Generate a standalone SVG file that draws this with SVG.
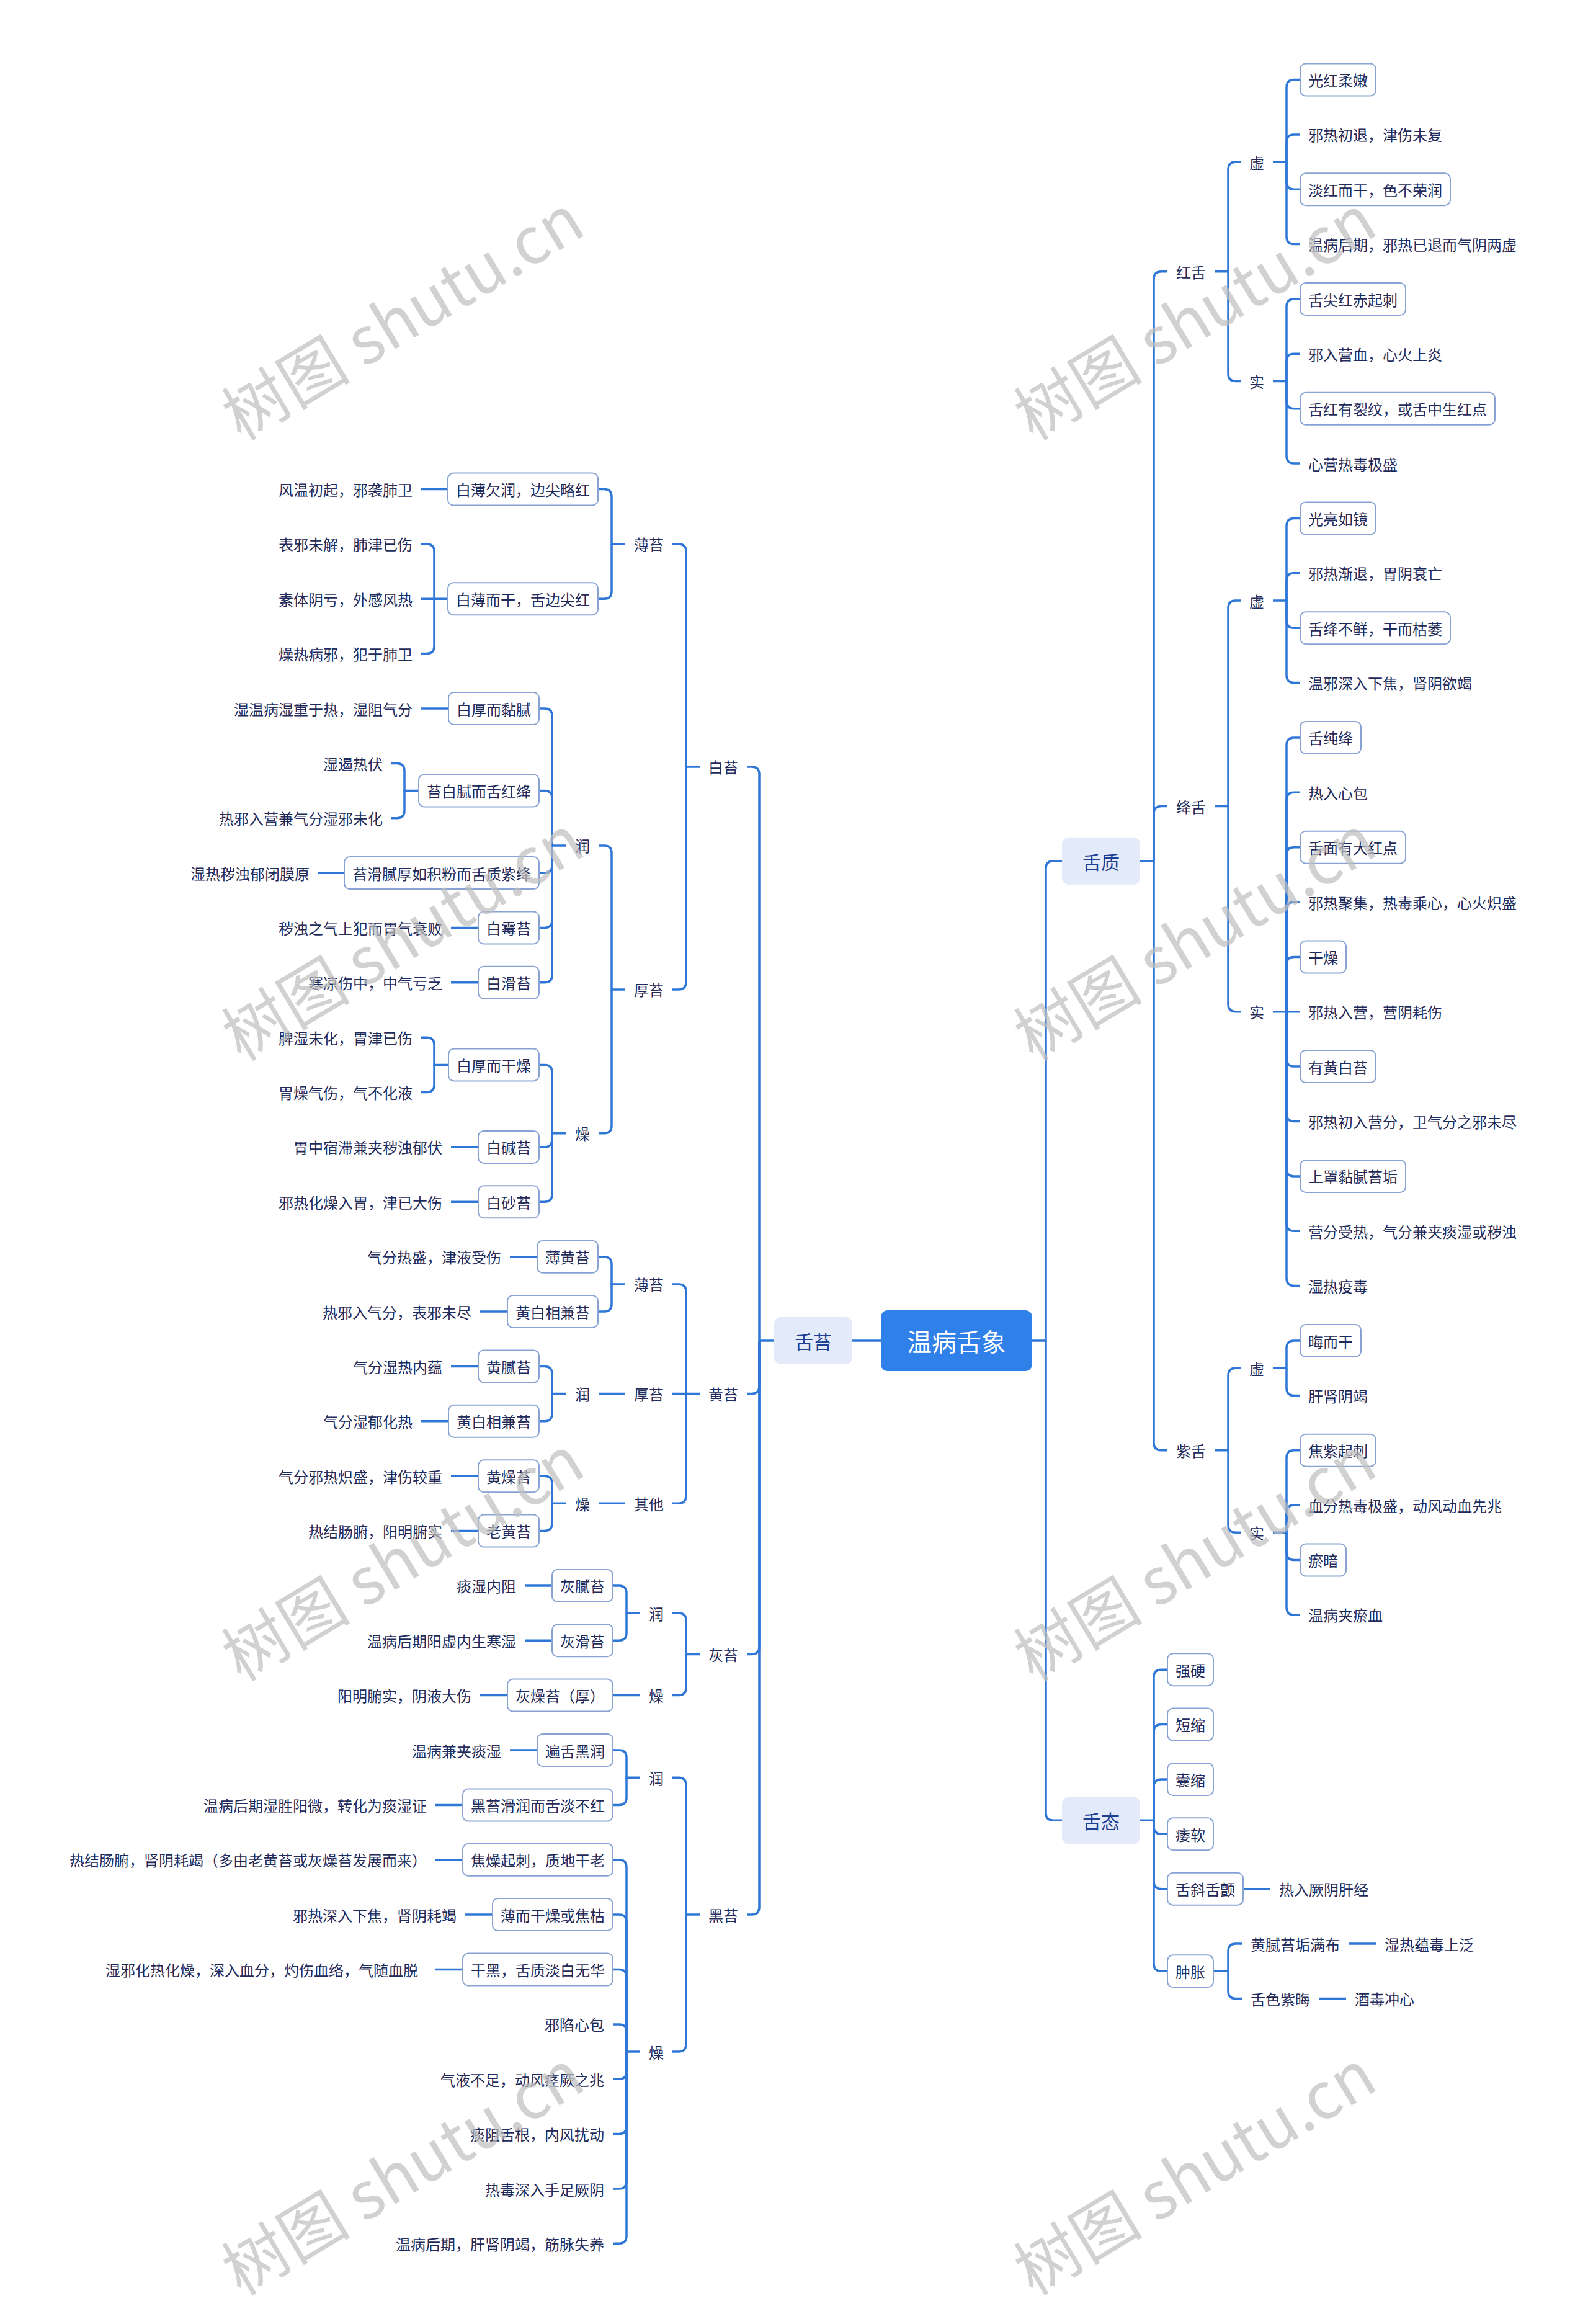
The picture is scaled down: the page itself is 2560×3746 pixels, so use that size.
<svg xmlns="http://www.w3.org/2000/svg" width="2560" height="3746" viewBox="0 0 2560 3746">
<style>
.c path{fill:none;stroke:#2f77d7;stroke-width:3.5}
.b{fill:#fff;stroke:#88a3d3;stroke-width:2}
text{font-family:"Noto Sans CJK SC","Noto Sans",sans-serif;dominant-baseline:central}
.t{font-size:24px;fill:#1f2b5a}
.e{text-anchor:end}
.l1r{fill:#e3ebfb}
.l1t{font-size:30px;fill:#1d4092;text-anchor:middle}
.wm{font-family:"Liberation Serif","Noto Sans CJK SC",serif;font-size:104px;fill:#bdbdbd;fill-opacity:.7;text-anchor:middle}
</style>
<rect width="2560" height="3746" fill="#fff"/>
<g id="connectors" class="c">
<path d="M1420 2161H1374"/>
<path d="M1664 2161H1686V1399.7Q1686 1387.7 1698 1387.7H1712"/>
<path d="M1686 2161V2922.2Q1686 2934.2 1698 2934.2H1712"/>
<path d="M1248 2161H1224V1247.9Q1224 1235.9 1212 1235.9H1204"/>
<path d="M1224 2161V2234.6Q1224 2246.6 1212 2246.6H1204"/>
<path d="M1224 2161V2654.4Q1224 2666.4 1212 2666.4H1204"/>
<path d="M1224 2161V3074.1Q1224 3086.1 1212 3086.1H1204"/>
<path d="M1128 1235.9H1106V888.9Q1106 876.9 1094 876.9H1084"/>
<path d="M1106 1235.9V1582.9Q1106 1594.9 1094 1594.9H1084"/>
<path d="M1008 876.9H986V800.5Q986 788.5 974 788.5H964"/>
<path d="M986 876.9V953.2Q986 965.2 974 965.2H964"/>
<path d="M723 788.5H679"/>
<path d="M723 965.2H679"/>
<path d="M700 965.2V888.9Q700 876.9 688 876.9H679"/>
<path d="M700 965.2V1041.6Q700 1053.6 688 1053.6H679"/>
<path d="M1008 1594.9H986V1374.9Q986 1362.9 974 1362.9H965"/>
<path d="M986 1594.9V1814.8Q986 1826.8 974 1826.8H965"/>
<path d="M913 1362.9H890V1154Q890 1142 878 1142H869"/>
<path d="M890 1362.9V1286.5Q890 1274.5 878 1274.5H869"/>
<path d="M890 1362.9V1395.1Q890 1407.1 878 1407.1H869"/>
<path d="M890 1362.9V1483.5Q890 1495.5 878 1495.5H869"/>
<path d="M890 1362.9V1571.8Q890 1583.8 878 1583.8H869"/>
<path d="M723 1142H679"/>
<path d="M675 1274.5H652V1242.4Q652 1230.4 640 1230.4H631"/>
<path d="M652 1274.5V1306.7Q652 1318.7 640 1318.7H631"/>
<path d="M555 1407.1H513"/>
<path d="M771 1495.5H727"/>
<path d="M771 1583.8H727"/>
<path d="M913 1826.8H890V1728.4Q890 1716.4 878 1716.4H869"/>
<path d="M890 1826.8V1836.9Q890 1848.9 878 1848.9H869"/>
<path d="M890 1826.8V1925.3Q890 1937.3 878 1937.3H869"/>
<path d="M723 1716.4H700V1684.2Q700 1672.2 688 1672.2H679"/>
<path d="M700 1716.4V1748.6Q700 1760.6 688 1760.6H679"/>
<path d="M771 1848.9H727"/>
<path d="M771 1937.3H727"/>
<path d="M1128 2246.6H1084"/>
<path d="M1106 2246.6V2081.9Q1106 2069.9 1094 2069.9H1084"/>
<path d="M1106 2246.6V2411.3Q1106 2423.3 1094 2423.3H1084"/>
<path d="M1008 2069.9H986V2037.7Q986 2025.7 974 2025.7H964"/>
<path d="M986 2069.9V2102.1Q986 2114.1 974 2114.1H964"/>
<path d="M866 2025.7H822"/>
<path d="M818 2114.1H774"/>
<path d="M1008 2246.6H965"/>
<path d="M913 2246.6H890V2214.4Q890 2202.4 878 2202.4H869"/>
<path d="M890 2246.6V2278.8Q890 2290.8 878 2290.8H869"/>
<path d="M771 2202.4H727"/>
<path d="M723 2290.8H679"/>
<path d="M1008 2423.3H965"/>
<path d="M913 2423.3H890V2391.2Q890 2379.2 878 2379.2H869"/>
<path d="M890 2423.3V2455.5Q890 2467.5 878 2467.5H869"/>
<path d="M771 2379.2H727"/>
<path d="M771 2467.5H727"/>
<path d="M1128 2666.4H1106V2612.1Q1106 2600.1 1094 2600.1H1084"/>
<path d="M1106 2666.4V2720.6Q1106 2732.6 1094 2732.6H1084"/>
<path d="M1032 2600.1H1010V2567.9Q1010 2555.9 998 2555.9H988"/>
<path d="M1010 2600.1V2632.3Q1010 2644.3 998 2644.3H988"/>
<path d="M890 2555.9H846"/>
<path d="M890 2644.3H846"/>
<path d="M1032 2732.6H988"/>
<path d="M818 2732.6H774"/>
<path d="M1128 3086.1H1106V2877.2Q1106 2865.2 1094 2865.2H1084"/>
<path d="M1106 3086.1V3295Q1106 3307 1094 3307H1084"/>
<path d="M1032 2865.2H1010V2833Q1010 2821 998 2821H988"/>
<path d="M1010 2865.2V2897.4Q1010 2909.4 998 2909.4H988"/>
<path d="M866 2821H822"/>
<path d="M746 2909.4H702"/>
<path d="M1032 3307H1010V3009.8Q1010 2997.8 998 2997.8H988"/>
<path d="M1010 3307V3098.1Q1010 3086.1 998 3086.1H988"/>
<path d="M1010 3307V3186.5Q1010 3174.5 998 3174.5H988"/>
<path d="M1010 3307V3274.9Q1010 3262.9 998 3262.9H988"/>
<path d="M1010 3307V3339.2Q1010 3351.2 998 3351.2H988"/>
<path d="M1010 3307V3427.6Q1010 3439.6 998 3439.6H988"/>
<path d="M1010 3307V3516Q1010 3528 998 3528H988"/>
<path d="M1010 3307V3604.3Q1010 3616.3 998 3616.3H988"/>
<path d="M746 2997.8H702"/>
<path d="M794 3086.1H750"/>
<path d="M746 3174.5H702"/>
<path d="M1838 1387.7H1860V449.8Q1860 437.8 1872 437.8H1882"/>
<path d="M1860 1387.7V1311.4Q1860 1299.4 1872 1299.4H1882"/>
<path d="M1860 1387.7V2325.7Q1860 2337.7 1872 2337.7H1882"/>
<path d="M1958 437.8H1980V273.1Q1980 261.1 1992 261.1H2000"/>
<path d="M1980 437.8V602.5Q1980 614.5 1992 614.5H2000"/>
<path d="M2052 261.1H2074V140.5Q2074 128.5 2086 128.5H2096"/>
<path d="M2074 261.1V228.9Q2074 216.9 2086 216.9H2096"/>
<path d="M2074 261.1V293.2Q2074 305.2 2086 305.2H2096"/>
<path d="M2074 261.1V381.6Q2074 393.6 2086 393.6H2096"/>
<path d="M2052 614.5H2074V494Q2074 482 2086 482H2096"/>
<path d="M2074 614.5V582.3Q2074 570.3 2086 570.3H2096"/>
<path d="M2074 614.5V646.7Q2074 658.7 2086 658.7H2096"/>
<path d="M2074 614.5V735.1Q2074 747.1 2086 747.1H2096"/>
<path d="M1958 1299.4H1980V980Q1980 968 1992 968H2000"/>
<path d="M1980 1299.4V1618.8Q1980 1630.8 1992 1630.8H2000"/>
<path d="M2052 968H2074V847.5Q2074 835.5 2086 835.5H2096"/>
<path d="M2074 968V935.8Q2074 923.8 2086 923.8H2096"/>
<path d="M2074 968V1000.2Q2074 1012.2 2086 1012.2H2096"/>
<path d="M2074 968V1088.6Q2074 1100.6 2086 1100.6H2096"/>
<path d="M2052 1630.8H2096"/>
<path d="M2074 1630.8V1200.9Q2074 1188.9 2086 1188.9H2096"/>
<path d="M2074 1630.8V1289.3Q2074 1277.3 2086 1277.3H2096"/>
<path d="M2074 1630.8V1377.7Q2074 1365.7 2086 1365.7H2096"/>
<path d="M2074 1630.8V1466Q2074 1454 2086 1454H2096"/>
<path d="M2074 1630.8V1554.4Q2074 1542.4 2086 1542.4H2096"/>
<path d="M2074 1630.8V1707.1Q2074 1719.1 2086 1719.1H2096"/>
<path d="M2074 1630.8V1795.5Q2074 1807.5 2086 1807.5H2096"/>
<path d="M2074 1630.8V1883.9Q2074 1895.9 2086 1895.9H2096"/>
<path d="M2074 1630.8V1972.3Q2074 1984.3 2086 1984.3H2096"/>
<path d="M2074 1630.8V2060.6Q2074 2072.6 2086 2072.6H2096"/>
<path d="M1958 2337.7H1980V2217.2Q1980 2205.2 1992 2205.2H2000"/>
<path d="M1980 2337.7V2458.3Q1980 2470.3 1992 2470.3H2000"/>
<path d="M2052 2205.2H2074V2173Q2074 2161 2086 2161H2096"/>
<path d="M2074 2205.2V2237.4Q2074 2249.4 2086 2249.4H2096"/>
<path d="M2052 2470.3H2074V2349.7Q2074 2337.7 2086 2337.7H2096"/>
<path d="M2074 2470.3V2438.1Q2074 2426.1 2086 2426.1H2096"/>
<path d="M2074 2470.3V2502.5Q2074 2514.5 2086 2514.5H2096"/>
<path d="M2074 2470.3V2590.9Q2074 2602.9 2086 2602.9H2096"/>
<path d="M1838 2934.2H1860V2703.2Q1860 2691.2 1872 2691.2H1882"/>
<path d="M1860 2934.2V2791.6Q1860 2779.6 1872 2779.6H1882"/>
<path d="M1860 2934.2V2880Q1860 2868 1872 2868H1882"/>
<path d="M1860 2934.2V2944.3Q1860 2956.3 1872 2956.3H1882"/>
<path d="M1860 2934.2V3032.7Q1860 3044.7 1872 3044.7H1882"/>
<path d="M1860 2934.2V3165.3Q1860 3177.3 1872 3177.3H1882"/>
<path d="M2004 3044.7H2048"/>
<path d="M1956 3177.3H1980V3145.1Q1980 3133.1 1992 3133.1H2002"/>
<path d="M1980 3177.3V3209.4Q1980 3221.4 1992 3221.4H2002"/>
<path d="M2174 3133.1H2218"/>
<path d="M2126 3221.4H2170"/>
</g>
<g id="n-root"><rect x="1420" y="2112" width="244" height="98" rx="11" fill="#2f80e8"/><text x="1542" y="2161" font-size="40" fill="#fff" text-anchor="middle">温病舌象</text></g>
<g id="n-shetai"><rect class="l1r" x="1248" y="2123" width="126" height="76" rx="11"/><text class="l1t" x="1311" y="2161">舌苔</text></g>
<g id="n-shezhi"><rect class="l1r" x="1712" y="1349.7" width="126" height="76" rx="11"/><text class="l1t" x="1775" y="1387.7">舌质</text></g>
<g id="n-shetai2"><rect class="l1r" x="1712" y="2896.2" width="126" height="76" rx="11"/><text class="l1t" x="1775" y="2934.2">舌态</text></g>
<g id="left-nodes" class="t">
<g id="l1"><text class="e" x="1190" y="1235.9">白苔</text></g>
<g id="l2"><text class="e" x="1070" y="876.9">薄苔</text></g>
<g id="l3"><rect class="b" x="722" y="762.5" width="242" height="52" rx="9"/><text class="e" x="951" y="788.5">白薄欠润，边尖略红</text></g>
<g id="l4"><text class="e" x="665" y="788.5">风温初起，邪袭肺卫</text></g>
<g id="l5"><rect class="b" x="722" y="939.2" width="242" height="52" rx="9"/><text class="e" x="951" y="965.2">白薄而干，舌边尖红</text></g>
<g id="l6"><text class="e" x="665" y="876.9">表邪未解，肺津已伤</text></g>
<g id="l7"><text class="e" x="665" y="965.2">素体阴亏，外感风热</text></g>
<g id="l8"><text class="e" x="665" y="1053.6">燥热病邪，犯于肺卫</text></g>
<g id="l9"><text class="e" x="1070" y="1594.9">厚苔</text></g>
<g id="l10"><text class="e" x="951" y="1362.9">润</text></g>
<g id="l11"><rect class="b" x="723" y="1116" width="146" height="52" rx="9"/><text class="e" x="856" y="1142">白厚而黏腻</text></g>
<g id="l12"><text class="e" x="665" y="1142">湿温病湿重于热，湿阻气分</text></g>
<g id="l13"><rect class="b" x="675" y="1248.5" width="194" height="52" rx="9"/><text class="e" x="856" y="1274.5">苔白腻而舌红绛</text></g>
<g id="l14"><text class="e" x="617" y="1230.4">湿遏热伏</text></g>
<g id="l15"><text class="e" x="617" y="1318.7">热邪入营兼气分湿邪未化</text></g>
<g id="l16"><rect class="b" x="555" y="1381.1" width="314" height="52" rx="9"/><text class="e" x="856" y="1407.1">苔滑腻厚如积粉而舌质紫绛</text></g>
<g id="l17"><text class="e" x="499" y="1407.1">湿热秽浊郁闭膜原</text></g>
<g id="l18"><rect class="b" x="771" y="1469.5" width="98" height="52" rx="9"/><text class="e" x="856" y="1495.5">白霉苔</text></g>
<g id="l19"><text class="e" x="713" y="1495.5">秽浊之气上犯而胃气衰败</text></g>
<g id="l20"><rect class="b" x="771" y="1557.8" width="98" height="52" rx="9"/><text class="e" x="856" y="1583.8">白滑苔</text></g>
<g id="l21"><text class="e" x="713" y="1583.8">寒凉伤中，中气亏乏</text></g>
<g id="l22"><text class="e" x="951" y="1826.8">燥</text></g>
<g id="l23"><rect class="b" x="723" y="1690.4" width="146" height="52" rx="9"/><text class="e" x="856" y="1716.4">白厚而干燥</text></g>
<g id="l24"><text class="e" x="665" y="1672.2">脾湿未化，胃津已伤</text></g>
<g id="l25"><text class="e" x="665" y="1760.6">胃燥气伤，气不化液</text></g>
<g id="l26"><rect class="b" x="771" y="1822.9" width="98" height="52" rx="9"/><text class="e" x="856" y="1848.9">白碱苔</text></g>
<g id="l27"><text class="e" x="713" y="1848.9">胃中宿滞兼夹秽浊郁伏</text></g>
<g id="l28"><rect class="b" x="771" y="1911.3" width="98" height="52" rx="9"/><text class="e" x="856" y="1937.3">白砂苔</text></g>
<g id="l29"><text class="e" x="713" y="1937.3">邪热化燥入胃，津已大伤</text></g>
<g id="l30"><text class="e" x="1190" y="2246.6">黄苔</text></g>
<g id="l31"><text class="e" x="1070" y="2069.9">薄苔</text></g>
<g id="l32"><rect class="b" x="866" y="1999.7" width="98" height="52" rx="9"/><text class="e" x="951" y="2025.7">薄黄苔</text></g>
<g id="l33"><text class="e" x="808" y="2025.7">气分热盛，津液受伤</text></g>
<g id="l34"><rect class="b" x="818" y="2088.1" width="146" height="52" rx="9"/><text class="e" x="951" y="2114.1">黄白相兼苔</text></g>
<g id="l35"><text class="e" x="760" y="2114.1">热邪入气分，表邪未尽</text></g>
<g id="l36"><text class="e" x="1070" y="2246.6">厚苔</text></g>
<g id="l37"><text class="e" x="951" y="2246.6">润</text></g>
<g id="l38"><rect class="b" x="771" y="2176.4" width="98" height="52" rx="9"/><text class="e" x="856" y="2202.4">黄腻苔</text></g>
<g id="l39"><text class="e" x="713" y="2202.4">气分湿热内蕴</text></g>
<g id="l40"><rect class="b" x="723" y="2264.8" width="146" height="52" rx="9"/><text class="e" x="856" y="2290.8">黄白相兼苔</text></g>
<g id="l41"><text class="e" x="665" y="2290.8">气分湿郁化热</text></g>
<g id="l42"><text class="e" x="1070" y="2423.3">其他</text></g>
<g id="l43"><text class="e" x="951" y="2423.3">燥</text></g>
<g id="l44"><rect class="b" x="771" y="2353.2" width="98" height="52" rx="9"/><text class="e" x="856" y="2379.2">黄燥苔</text></g>
<g id="l45"><text class="e" x="713" y="2379.2">气分邪热炽盛，津伤较重</text></g>
<g id="l46"><rect class="b" x="771" y="2441.5" width="98" height="52" rx="9"/><text class="e" x="856" y="2467.5">老黄苔</text></g>
<g id="l47"><text class="e" x="713" y="2467.5">热结肠腑，阳明腑实</text></g>
<g id="l48"><text class="e" x="1190" y="2666.4">灰苔</text></g>
<g id="l49"><text class="e" x="1070" y="2600.1">润</text></g>
<g id="l50"><rect class="b" x="890" y="2529.9" width="98" height="52" rx="9"/><text class="e" x="975" y="2555.9">灰腻苔</text></g>
<g id="l51"><text class="e" x="832" y="2555.9">痰湿内阻</text></g>
<g id="l52"><rect class="b" x="890" y="2618.3" width="98" height="52" rx="9"/><text class="e" x="975" y="2644.3">灰滑苔</text></g>
<g id="l53"><text class="e" x="832" y="2644.3">温病后期阳虚内生寒湿</text></g>
<g id="l54"><text class="e" x="1070" y="2732.6">燥</text></g>
<g id="l55"><rect class="b" x="818" y="2706.6" width="170" height="52" rx="9"/><text class="e" x="975" y="2732.6">灰燥苔（厚）</text></g>
<g id="l56"><text class="e" x="760" y="2732.6">阳明腑实，阴液大伤</text></g>
<g id="l57"><text class="e" x="1190" y="3086.1">黑苔</text></g>
<g id="l58"><text class="e" x="1070" y="2865.2">润</text></g>
<g id="l59"><rect class="b" x="866" y="2795" width="122" height="52" rx="9"/><text class="e" x="975" y="2821">遍舌黑润</text></g>
<g id="l60"><text class="e" x="808" y="2821">温病兼夹痰湿</text></g>
<g id="l61"><rect class="b" x="746" y="2883.4" width="242" height="52" rx="9"/><text class="e" x="975" y="2909.4">黑苔滑润而舌淡不红</text></g>
<g id="l62"><text class="e" x="688" y="2909.4">温病后期湿胜阳微，转化为痰湿证</text></g>
<g id="l63"><text class="e" x="1070" y="3307">燥</text></g>
<g id="l64"><rect class="b" x="746" y="2971.8" width="242" height="52" rx="9"/><text class="e" x="975" y="2997.8">焦燥起刺，质地干老</text></g>
<g id="l65"><text class="e" x="688" y="2997.8">热结肠腑，肾阴耗竭（多由老黄苔或灰燥苔发展而来）</text></g>
<g id="l66"><rect class="b" x="794" y="3060.1" width="194" height="52" rx="9"/><text class="e" x="975" y="3086.1">薄而干燥或焦枯</text></g>
<g id="l67"><text class="e" x="736" y="3086.1">邪热深入下焦，肾阴耗竭</text></g>
<g id="l68"><rect class="b" x="746" y="3148.5" width="242" height="52" rx="9"/><text class="e" x="975" y="3174.5">干黑，舌质淡白无华</text></g>
<g id="l69"><text class="e" x="674" y="3174.5">湿邪化热化燥，深入血分，灼伤血络，气随血脱</text></g>
<g id="l70"><text class="e" x="974" y="3262.9">邪陷心包</text></g>
<g id="l71"><text class="e" x="974" y="3351.2">气液不足，动风痉厥之兆</text></g>
<g id="l72"><text class="e" x="974" y="3439.6">痰阻舌根，内风扰动</text></g>
<g id="l73"><text class="e" x="974" y="3528">热毒深入手足厥阴</text></g>
<g id="l74"><text class="e" x="974" y="3616.3">温病后期，肝肾阴竭，筋脉失养</text></g>
</g>
<g id="right-nodes" class="t">
<g id="r1"><text x="1896" y="437.8">红舌</text></g>
<g id="r2"><text x="2014" y="261.1">虚</text></g>
<g id="r3"><rect class="b" x="2096" y="102.5" width="122" height="52" rx="9"/><text x="2109" y="128.5">光红柔嫩</text></g>
<g id="r4"><text x="2109" y="216.9">邪热初退，津伤未复</text></g>
<g id="r5"><rect class="b" x="2096" y="279.2" width="242" height="52" rx="9"/><text x="2109" y="305.2">淡红而干，色不荣润</text></g>
<g id="r6"><text x="2109" y="393.6">温病后期，邪热已退而气阴两虚</text></g>
<g id="r7"><text x="2014" y="614.5">实</text></g>
<g id="r8"><rect class="b" x="2096" y="456" width="170" height="52" rx="9"/><text x="2109" y="482">舌尖红赤起刺</text></g>
<g id="r9"><text x="2109" y="570.3">邪入营血，心火上炎</text></g>
<g id="r10"><rect class="b" x="2096" y="632.7" width="314" height="52" rx="9"/><text x="2109" y="658.7">舌红有裂纹，或舌中生红点</text></g>
<g id="r11"><text x="2109" y="747.1">心营热毒极盛</text></g>
<g id="r12"><text x="1896" y="1299.4">绛舌</text></g>
<g id="r13"><text x="2014" y="968">虚</text></g>
<g id="r14"><rect class="b" x="2096" y="809.5" width="122" height="52" rx="9"/><text x="2109" y="835.5">光亮如镜</text></g>
<g id="r15"><text x="2109" y="923.8">邪热渐退，胃阴衰亡</text></g>
<g id="r16"><rect class="b" x="2096" y="986.2" width="242" height="52" rx="9"/><text x="2109" y="1012.2">舌绛不鲜，干而枯萎</text></g>
<g id="r17"><text x="2109" y="1100.6">温邪深入下焦，肾阴欲竭</text></g>
<g id="r18"><text x="2014" y="1630.8">实</text></g>
<g id="r19"><rect class="b" x="2096" y="1162.9" width="98" height="52" rx="9"/><text x="2109" y="1188.9">舌纯绛</text></g>
<g id="r20"><text x="2109" y="1277.3">热入心包</text></g>
<g id="r21"><rect class="b" x="2096" y="1339.7" width="170" height="52" rx="9"/><text x="2109" y="1365.7">舌面有大红点</text></g>
<g id="r22"><text x="2109" y="1454">邪热聚集，热毒乘心，心火炽盛</text></g>
<g id="r23"><rect class="b" x="2096" y="1516.4" width="74" height="52" rx="9"/><text x="2109" y="1542.4">干燥</text></g>
<g id="r24"><text x="2109" y="1630.8">邪热入营，营阴耗伤</text></g>
<g id="r25"><rect class="b" x="2096" y="1693.1" width="122" height="52" rx="9"/><text x="2109" y="1719.1">有黄白苔</text></g>
<g id="r26"><text x="2109" y="1807.5">邪热初入营分，卫气分之邪未尽</text></g>
<g id="r27"><rect class="b" x="2096" y="1869.9" width="170" height="52" rx="9"/><text x="2109" y="1895.9">上罩黏腻苔垢</text></g>
<g id="r28"><text x="2109" y="1984.3">营分受热，气分兼夹痰湿或秽浊</text></g>
<g id="r29"><text x="2109" y="2072.6">湿热疫毒</text></g>
<g id="r30"><text x="1896" y="2337.7">紫舌</text></g>
<g id="r31"><text x="2014" y="2205.2">虚</text></g>
<g id="r32"><rect class="b" x="2096" y="2135" width="98" height="52" rx="9"/><text x="2109" y="2161">晦而干</text></g>
<g id="r33"><text x="2109" y="2249.4">肝肾阴竭</text></g>
<g id="r34"><text x="2014" y="2470.3">实</text></g>
<g id="r35"><rect class="b" x="2096" y="2311.7" width="122" height="52" rx="9"/><text x="2109" y="2337.7">焦紫起刺</text></g>
<g id="r36"><text x="2109" y="2426.1">血分热毒极盛，动风动血先兆</text></g>
<g id="r37"><rect class="b" x="2096" y="2488.5" width="74" height="52" rx="9"/><text x="2109" y="2514.5">瘀暗</text></g>
<g id="r38"><text x="2109" y="2602.9">温病夹瘀血</text></g>
<g id="r39"><rect class="b" x="1882" y="2665.2" width="74" height="52" rx="9"/><text x="1895" y="2691.2">强硬</text></g>
<g id="r40"><rect class="b" x="1882" y="2753.6" width="74" height="52" rx="9"/><text x="1895" y="2779.6">短缩</text></g>
<g id="r41"><rect class="b" x="1882" y="2842" width="74" height="52" rx="9"/><text x="1895" y="2868">囊缩</text></g>
<g id="r42"><rect class="b" x="1882" y="2930.3" width="74" height="52" rx="9"/><text x="1895" y="2956.3">痿软</text></g>
<g id="r43"><rect class="b" x="1882" y="3018.7" width="122" height="52" rx="9"/><text x="1895" y="3044.7">舌斜舌颤</text></g>
<g id="r44"><text x="2062" y="3044.7">热入厥阴肝经</text></g>
<g id="r45"><rect class="b" x="1882" y="3151.3" width="74" height="52" rx="9"/><text x="1895" y="3177.3">肿胀</text></g>
<g id="r46"><text x="2016" y="3133.1">黄腻苔垢满布</text></g>
<g id="r47"><text x="2232" y="3133.1">湿热蕴毒上泛</text></g>
<g id="r48"><text x="2016" y="3221.4">舌色紫晦</text></g>
<g id="r49"><text x="2184" y="3221.4">酒毒冲心</text></g>
</g>
<g id="watermarks" class="wm">
<text x="645" y="505" transform="rotate(-31 645 505)">树图 shutu.cn</text>
<text x="1922" y="505" transform="rotate(-31 1922 505)">树图 shutu.cn</text>
<text x="645" y="1505" transform="rotate(-31 645 1505)">树图 shutu.cn</text>
<text x="1922" y="1505" transform="rotate(-31 1922 1505)">树图 shutu.cn</text>
<text x="645" y="2505" transform="rotate(-31 645 2505)">树图 shutu.cn</text>
<text x="1922" y="2505" transform="rotate(-31 1922 2505)">树图 shutu.cn</text>
<text x="645" y="3495" transform="rotate(-31 645 3495)">树图 shutu.cn</text>
<text x="1922" y="3495" transform="rotate(-31 1922 3495)">树图 shutu.cn</text>
</g>
</svg>
